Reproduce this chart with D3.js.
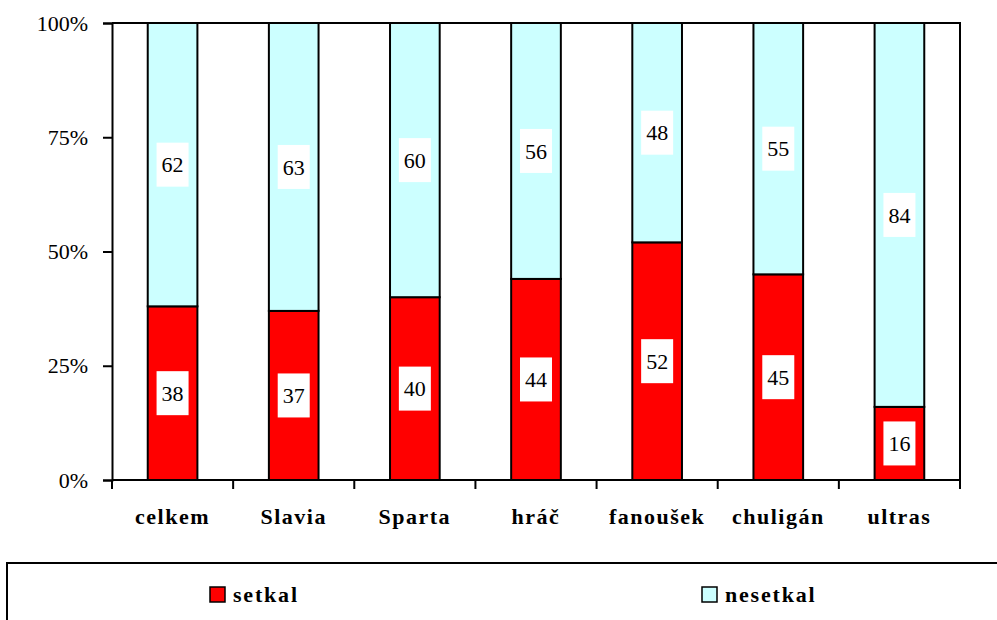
<!DOCTYPE html>
<html>
<head>
<meta charset="utf-8">
<script src="https://cdn.jsdelivr.net/npm/d3@7"></script>
<style>
  body { margin: 0; background: #fff; }
  svg text { font-family: 'Liberation Serif', 'Times New Roman', serif !important; }
</style>
</head>
<body>
<svg id="chart"></svg>
<script>
const categories = ["celkem", "Slavia", "Sparta", "hráč", "fanoušek", "chuligán", "ultras"]
const setkal = [38, 37, 40, 44, 52, 45, 16]
const nesetkal = [62, 63, 60, 56, 48, 55, 84]
const seriesNames = ["setkal", "nesetkal"]
const colors = ["#ff0000", "#ccffff"]
const yTicks = [0, 25, 50, 75, 100]

const width = 997, height = 620
const margin = {top: 23, right: 37, bottom: 140, left: 112}

const svg = d3.select("#chart").attr("width", width).attr("height", height)

const x = d3.scaleBand()
            .domain(categories)
            .range([margin.left, width - margin.right])
            .paddingInner(0.59)
            .paddingOuter(0.295)
const y = d3.scaleLinear()
            .domain([0, 100])
            .range([height - margin.bottom, margin.top])

const rows = categories.map((c, i) => ({cat: c, setkal: setkal[i], nesetkal: nesetkal[i]}))
const stack = d3.stack().keys(seriesNames)(rows)

// plot frame top / right
svg.append("path")
   .attr("d", `M${margin.left},${y(100)}H${width - margin.right}V${y(0)}`)
   .attr("fill", "none").attr("stroke", "#000").attr("stroke-width", 2)

// bars
stack.forEach((s, k) => {
  svg.append("g").selectAll("rect").data(s).join("rect")
     .attr("x", d => x(d.data.cat))
     .attr("width", x.bandwidth())
     .attr("y", d => y(d[1]))
     .attr("height", d => y(d[0]) - y(d[1]))
     .attr("fill", colors[k])
     .attr("stroke", "#000").attr("stroke-width", 2)
})

// value labels in white boxes
stack.forEach((s, k) => {
  const g = svg.append("g").selectAll("g").data(s).join("g")
               .attr("transform", d => `translate(${x(d.data.cat) + x.bandwidth() / 2},${(y(d[0]) + y(d[1])) / 2})`)
  g.append("rect").attr("x", -16).attr("y", -22).attr("width", 32).attr("height", 44).attr("fill", "#fff")
  g.append("text").attr("text-anchor", "middle").attr("dy", "0.35em")
   .attr("font-size", 22).text(d => d[1] - d[0])
})

// y axis
const yAxis = svg.append("g")
   .attr("transform", `translate(${margin.left},0)`)
   .call(d3.axisLeft(y).tickValues(yTicks).tickFormat(d => d + "%").tickSize(9).tickPadding(15))
yAxis.attr("font-family", null)
yAxis.select(".domain").attr("stroke-width", 2)
yAxis.selectAll(".tick line").attr("stroke-width", 2)
yAxis.selectAll("text").attr("font-size", 22).attr("fill", "#000")

// x axis with category boundary ticks
const xAxis = svg.append("g").attr("transform", `translate(0,${y(0)})`)
xAxis.append("line").attr("x1", margin.left).attr("x2", width - margin.right)
     .attr("stroke", "#000").attr("stroke-width", 2)
const n = categories.length
const bounds = d3.range(n + 1).map(i => margin.left + i * (width - margin.left - margin.right) / n)
xAxis.selectAll(".bt").data(bounds).join("line")
     .attr("x1", d => d).attr("x2", d => d).attr("y1", 0).attr("y2", 9)
     .attr("stroke", "#000").attr("stroke-width", 2)
xAxis.selectAll(".lab").data(categories).join("text")
     .attr("x", d => x(d) + x.bandwidth() / 2).attr("y", 44)
     .attr("text-anchor", "middle")
     .attr("font-size", 22).attr("font-weight", "bold").attr("letter-spacing", 1.5)
     .text(d => d)

// legend
svg.append("rect").attr("x", 7).attr("y", 563).attr("width", 1100).attr("height", 200)
   .attr("fill", "none").attr("stroke", "#000").attr("stroke-width", 2)
const legX = [210, 702]
const leg = svg.append("g").selectAll("g").data(seriesNames).join("g")
               .attr("transform", (d, i) => `translate(${legX[i]},587)`)
leg.append("rect").attr("width", 15).attr("height", 15)
   .attr("fill", (d, i) => colors[i]).attr("stroke", "#000").attr("stroke-width", 1.5)
leg.append("text").attr("x", 23).attr("y", 15)
   .attr("font-size", 22).attr("font-weight", "bold").attr("letter-spacing", 1.8)
   .text(d => d)
</script>
</body>
</html>
